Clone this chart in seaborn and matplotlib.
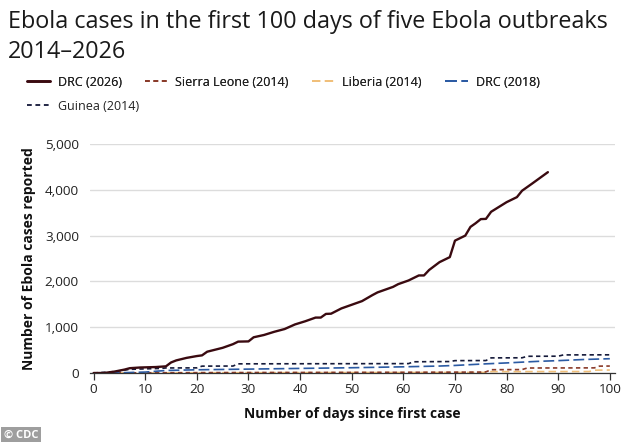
import numpy as np
import pandas as pd
import matplotlib
matplotlib.use("Agg")
import matplotlib.pyplot as plt
from matplotlib.lines import Line2D
from matplotlib.ticker import FuncFormatter
import seaborn as sns

# ---------------- data ----------------
drc2026_days = [0, 2, 4, 6, 7, 9, 12, 14, 15, 16, 18, 20, 21, 22, 25, 27, 28, 30, 31, 33,
                35, 37, 39, 40, 41, 43, 44, 45, 46, 48, 50, 52, 54, 55, 58, 59, 61, 63, 64,
                65, 67, 69, 70, 72, 73, 74, 75, 76, 77, 80, 82, 83, 85, 88]
drc2026_cases = [0, 0, 30, 75, 105, 120, 130, 145, 230, 275, 330, 370, 385, 465, 550, 630,
                 685, 690, 780, 830, 900, 960, 1060, 1095, 1130, 1210, 1210, 1290, 1295,
                 1410, 1490, 1570, 1700, 1760, 1880, 1940, 2020, 2130, 2130, 2250, 2420,
                 2530, 2890, 3000, 3190, 3270, 3360, 3365, 3520, 3730, 3840, 3980, 4140, 4385]

sierra_days = [0, 10, 30, 60, 75, 76, 77, 83, 84, 97, 98, 100]
sierra_cases = [0, 5, 10, 15, 20, 25, 72, 75, 109, 112, 150, 152]

liberia_days = [0, 20, 50, 76, 77, 96, 97, 100]
liberia_cases = [0, 5, 10, 12, 30, 32, 62, 65]

drc2018_days = [0, 5, 10, 14, 20, 30, 40, 50, 60, 67, 70, 76, 80, 86, 90, 95, 100]
drc2018_cases = [0, 5, 20, 55, 70, 85, 100, 115, 135, 152, 165, 200, 220, 254, 270, 295, 312]

guinea_days = [0, 4, 7, 13, 14, 20, 21, 27, 28, 61, 62, 69, 70, 76, 77, 83, 84, 90, 91, 100]
guinea_cases = [0, 30, 80, 100, 110, 112, 150, 152, 200, 205, 245, 250, 270, 272, 330, 332,
                365, 367, 395, 397]

series_names = ["DRC (2026)", "Sierra Leone (2014)", "Liberia (2014)", "DRC (2018)", "Guinea (2014)"]
x_ticks = [0, 10, 20, 30, 40, 50, 60, 70, 80, 90, 100]
y_ticks = [0, 1000, 2000, 3000, 4000, 5000]

title_line1 = "Ebola cases in the first 100 days of five Ebola outbreaks"
title_line2 = "2014\u20132026"
x_label = "Number of days since first case"
y_label = "Number of Ebola cases reported"
credit = "\u00a9 CDC"

# ---------------- build long table ----------------
frames = []
for name, d, c in zip(series_names,
                      [drc2026_days, sierra_days, liberia_days, drc2018_days, guinea_days],
                      [drc2026_cases, sierra_cases, liberia_cases, drc2018_cases, guinea_cases]):
    frames.append(pd.DataFrame({"day": d, "cases": c, "outbreak": name}))
df = pd.concat(frames, ignore_index=True)

colors = {
    "DRC (2026)": "#3a0a10",
    "Sierra Leone (2014)": "#8a3b2a",
    "Liberia (2014)": "#f0bf7a",
    "DRC (2018)": "#2b5aa3",
    "Guinea (2014)": "#151a3a",
}
dashes = {
    "DRC (2026)": "",
    "Sierra Leone (2014)": (2.6, 2.0),
    "Liberia (2014)": (4.5, 2.5),
    "DRC (2018)": (6.5, 2.5),
    "Guinea (2014)": (2.6, 2.0),
}
widths = {
    "DRC (2026)": 1.7,
    "Sierra Leone (2014)": 1.2,
    "Liberia (2014)": 1.2,
    "DRC (2018)": 1.2,
    "Guinea (2014)": 1.2,
}
draw_order = ["Liberia (2014)", "Sierra Leone (2014)", "DRC (2018)", "Guinea (2014)", "DRC (2026)"]

# ---------------- figure ----------------
sns.set_style("white")
plt.rcParams["font.family"] = ["Open Sans", "DejaVu Sans"]

W, H = 634, 442
fig = plt.figure(figsize=(W / 100, H / 100), dpi=100)
ax = fig.add_axes([90 / W, 1 - 373 / H, (615 - 90) / W, (373 - 144) / H])

sns.lineplot(data=df, x="day", y="cases", hue="outbreak", style="outbreak", size="outbreak",
             hue_order=draw_order, style_order=draw_order, size_order=draw_order,
             palette=colors, dashes=dashes, sizes=widths, estimator=None, sort=False,
             legend=False, ax=ax)

ax.set_xlim(-0.7, 101)
ax.set_ylim(0, 5000)
ax.set_xticks(x_ticks)
ax.set_yticks(y_ticks)
ax.yaxis.set_major_formatter(FuncFormatter(lambda v, p: f"{int(v):,}"))
ax.grid(axis="y", color="#dcdcdc", linewidth=1.0)
ax.grid(axis="x", visible=False)
ax.set_axisbelow(True)
for s in ["top", "right", "left"]:
    ax.spines[s].set_visible(False)
ax.spines["bottom"].set_color("#333333")
ax.spines["bottom"].set_linewidth(0.9)
ax.tick_params(axis="x", length=5, width=0.9, color="#333333", labelsize=9.7,
               labelcolor="#222222", pad=2, bottom=True)
ax.tick_params(axis="y", length=0, labelsize=9.7, labelcolor="#222222", pad=8)
ax.set_xlabel(x_label, fontsize=10, fontweight="bold", color="#111111", labelpad=8)
ax.set_ylabel(y_label, fontsize=10, fontweight="bold", color="#111111", labelpad=6)

# title
fig.text(8 / W, 1 - 28 / H, title_line1, fontsize=16.8, color="#1a1a1a", va="baseline", ha="left")
fig.text(8 / W, 1 - 58 / H, title_line2, fontsize=16.8, color="#1a1a1a", va="baseline", ha="left")

# legend: row 1 with four entries, row 2 with Guinea
def make_handle(n):
    return Line2D([0], [0], color=colors[n], lw=widths[n] * 1.1,
                  dashes=dashes[n] if dashes[n] else (None, None))

row1 = ["DRC (2026)", "Sierra Leone (2014)", "Liberia (2014)", "DRC (2018)"]
row2 = ["Guinea (2014)"]
leg_kw = dict(loc="center left", frameon=False, fontsize=9.0, handlelength=1.8,
              handletextpad=0.65, columnspacing=1.85, borderpad=0, borderaxespad=0,
              labelcolor="#222222")
leg1 = fig.legend([make_handle(n) for n in row1], row1, ncol=4,
                  bbox_to_anchor=(27 / W, 1 - 82 / H), **leg_kw)
fig.add_artist(leg1)
leg2 = fig.legend([make_handle(n) for n in row2], row2, ncol=1,
                  bbox_to_anchor=(27 / W, 1 - 106 / H), **leg_kw)

# credit badge
fig.text(4 / W, 1 - 435 / H, credit, fontsize=8, color="white", fontweight="bold",
         va="center", ha="left",
         bbox=dict(boxstyle="square,pad=0.25", facecolor="#9e9e9e", edgecolor="none"))

fig.savefig("out.png", dpi=100)
